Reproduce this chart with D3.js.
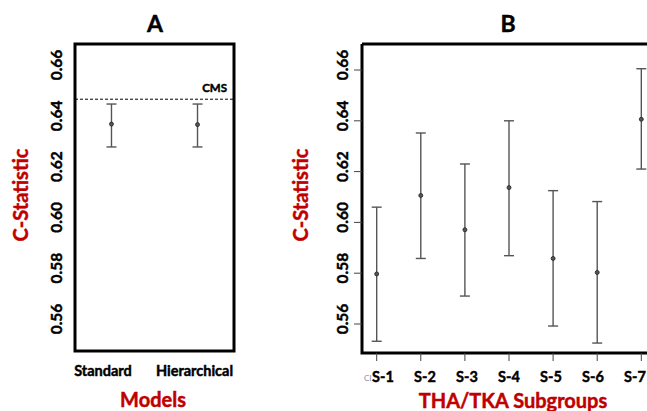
<!DOCTYPE html>
<html>
<head>
<meta charset="utf-8">
<script src="https://cdn.jsdelivr.net/npm/d3@7"></script>
<style>
  body { margin: 0; background: #fff; }
  svg { display: block; font-family: Lato, "Open Sans", sans-serif; }
  /* engrosar un poco el texto, parecido a Calibri negrita */
  svg text { stroke: currentColor; stroke-width: 0.45px; font-weight: bold; }
</style>
</head>
<body>
<div id="canvas"></div>
<script>
// Panel A: models
const models = ["Standard", "Hierarchical"];
const modelEst = [0.6387, 0.6385];
const modelLo = [0.6297, 0.6297];
const modelHi = [0.6466, 0.6466];
const cmsValue = 0.6485;

// Panel B: subgroups
const groups = ["S-1", "S-2", "S-3", "S-4", "S-5", "S-6", "S-7"];
const groupEst = [0.5797, 0.6106, 0.5971, 0.6137, 0.5858, 0.5803, 0.6406];
const groupLo = [0.5532, 0.5858, 0.5710, 0.5869, 0.5592, 0.5525, 0.6210];
const groupHi = [0.6060, 0.6352, 0.6230, 0.6400, 0.6125, 0.6082, 0.6605];

const yTicks = [0.56, 0.58, 0.60, 0.62, 0.64, 0.66];

const W = 647, H = 411;
const red = "#c00000";
const barColor = "#555";

const svg = d3.select("#canvas").append("svg")
  .attr("width", W)
  .attr("height", H);

// dibuja un panel con barras de error
const panel = (opt) => {
  const { left, right, cats, est, lo, hi, padding } = opt;
  const g = svg.append("g");

  const x = d3.scalePoint()
    .domain(cats)
    .range([left, right])
    .padding(padding);

  const y = d3.scaleLinear()
    .domain([0.56, 0.66])
    .range([324, 70]);

  const rows = cats.map((c, i) => ({ c, est: est[i], lo: lo[i], hi: hi[i] }));

  // barras de error
  const bars = g.selectAll(".err").data(rows).enter().append("g").attr("class", "err");
  bars.append("line")
    .attr("x1", d => x(d.c)).attr("x2", d => x(d.c))
    .attr("y1", d => y(d.lo)).attr("y2", d => y(d.hi))
    .attr("stroke", barColor).attr("stroke-width", 1.4);
  ["lo", "hi"].forEach(k => {
    bars.append("line")
      .attr("x1", d => x(d.c) - 5).attr("x2", d => x(d.c) + 5)
      .attr("y1", d => y(d[k])).attr("y2", d => y(d[k]))
      .attr("stroke", barColor).attr("stroke-width", 1.4);
  });
  bars.append("circle")
    .attr("cx", d => x(d.c)).attr("cy", d => y(d.est))
    .attr("r", 2)
    .attr("fill", "#555").attr("stroke", "#222").attr("stroke-width", 0.8);

  return { g, x, y };
};

// ---------- Panel A ----------
const A = { left: 75, right: 234, top: 44, bottom: 351 };
const pa = panel({ ...A, cats: models, est: modelEst, lo: modelLo, hi: modelHi, padding: 0.424 });

pa.g.append("line")
  .attr("x1", A.left).attr("x2", A.right)
  .attr("y1", pa.y(cmsValue)).attr("y2", pa.y(cmsValue))
  .attr("stroke", "#000").attr("stroke-width", 1)
  .attr("stroke-dasharray", "3,2");
pa.g.append("text")
  .attr("x", 227).attr("y", pa.y(cmsValue) - 7)
  .attr("text-anchor", "end")
  .attr("font-size", 11.5)
  .text("CMS");

pa.g.append("rect")
  .attr("x", A.left).attr("y", A.top)
  .attr("width", A.right - A.left).attr("height", A.bottom - A.top)
  .attr("fill", "none").attr("stroke", "#000").attr("stroke-width", 3);

pa.g.selectAll(".ytl").data(yTicks).enter().append("text")
  .attr("transform", d => `translate(62,${pa.y(d) - 5}) rotate(-90)`)
  .attr("text-anchor", "middle")
  .attr("font-size", 15.5)
  .text(d => d.toFixed(2));

// etiquetas del eje x (algo desplazadas respecto a los puntos, como en el original)
const xa = d3.scalePoint().domain(models).range([103, 194.5]);
pa.g.selectAll(".xtl").data(models).enter().append("text")
  .attr("x", d => xa(d)).attr("y", 376)
  .attr("text-anchor", "middle")
  .attr("font-size", 14.5)
  .text(d => d);

svg.append("text").attr("x", 155).attr("y", 32)
  .attr("text-anchor", "middle").attr("font-size", 23)
  .text("A");
svg.append("text").attr("x", 153).attr("y", 407)
  .attr("text-anchor", "middle").attr("font-size", 20)
  .attr("fill", red).style("color", red).text("Models");
svg.append("text")
  .attr("transform", "translate(28,195) rotate(-90)")
  .attr("text-anchor", "middle").attr("font-size", 20)
  .attr("fill", red).style("color", red).text("C-Statistic");

// ---------- Panel B ----------
const B = { left: 362, right: 656, top: 44, bottom: 353 };
const pb = panel({ ...B, cats: groups, est: groupEst, lo: groupLo, hi: groupHi, padding: 0.333 });

pb.g.append("path")
  .attr("d", `M${B.left},${B.top}H${W + 10}M${B.left},${B.top}V${B.bottom}H${W + 10}`)
  .attr("fill", "none").attr("stroke", "#000").attr("stroke-width", 3);

// ticks
pb.g.selectAll(".yt").data(yTicks).enter().append("line")
  .attr("x1", 354).attr("x2", B.left)
  .attr("y1", d => pb.y(d)).attr("y2", d => pb.y(d))
  .attr("stroke", "#444").attr("stroke-width", 1);
pb.g.selectAll(".xt").data(groups).enter().append("line")
  .attr("x1", d => pb.x(d)).attr("x2", d => pb.x(d))
  .attr("y1", B.bottom).attr("y2", 361)
  .attr("stroke", "#444").attr("stroke-width", 1);

pb.g.selectAll(".ytl").data(yTicks).enter().append("text")
  .attr("transform", d => `translate(348,${pb.y(d) - 5}) rotate(-90)`)
  .attr("text-anchor", "middle")
  .attr("font-size", 15.5)
  .text(d => d.toFixed(2));

const xb = d3.scalePoint().domain(groups).range([383, 635]);
pb.g.selectAll(".xtl").data(groups).enter().append("text")
  .attr("x", d => xb(d)).attr("y", 382)
  .attr("text-anchor", "middle")
  .attr("font-size", 14.5)
  .text(d => d);

pb.g.append("text").attr("x", 364).attr("y", 381)
  .attr("font-size", 8).attr("fill", "#8a8fa0")
  .style("stroke", "none").style("font-weight", "normal").text("CI");

svg.append("text").attr("x", 508).attr("y", 32)
  .attr("text-anchor", "middle").attr("font-size", 23)
  .text("B");
svg.append("text").attr("x", 513).attr("y", 408)
  .attr("text-anchor", "middle").attr("font-size", 20)
  .attr("fill", red).style("color", red).text("THA/TKA Subgroups");
svg.append("text")
  .attr("transform", "translate(308,195) rotate(-90)")
  .attr("text-anchor", "middle").attr("font-size", 20)
  .attr("fill", red).style("color", red).text("C-Statistic");
</script>
</body>
</html>
